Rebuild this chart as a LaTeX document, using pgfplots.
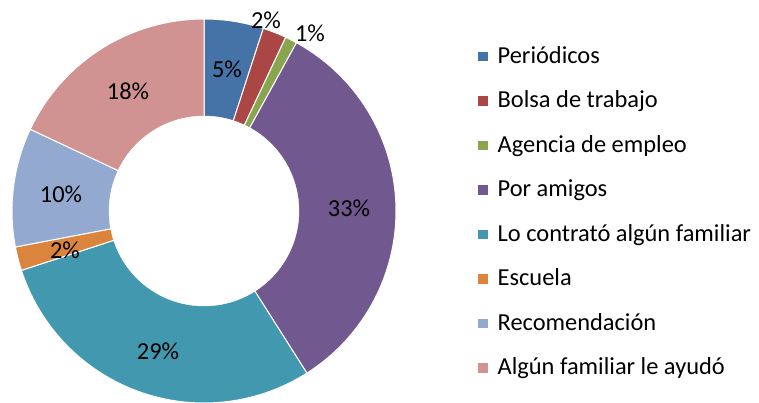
\documentclass[border=0pt]{standalone}
\usepackage{pgfplots}
\pgfplotsset{compat=1.18}
\usepackage{fontspec}
\setmainfont{Carlito}
\definecolor{c1}{HTML}{4572A7}
\definecolor{c2}{HTML}{AA4643}
\definecolor{c3}{HTML}{89A54E}
\definecolor{c4}{HTML}{71588F}
\definecolor{c5}{HTML}{4198AF}
\definecolor{c6}{HTML}{DB843D}
\definecolor{c7}{HTML}{93A9CF}
\definecolor{c8}{HTML}{D19392}
\newcommand{\lab}{\fontsize{24.5}{28}\selectfont}
\begin{document}
\begin{tikzpicture}
\useasboundingbox (0,0) rectangle (759bp,403bp);
\begin{axis}[
  at={(0,0)}, anchor=south west,
  scale only axis, width=759bp, height=403bp,
  xmin=0, xmax=759, ymin=0, ymax=403,
  hide axis, clip=false,
  legend style={draw=none, fill=none, at={(axis cs:477,189.5)}, anchor=west,
    font=\lab, row sep=23.5bp, inner sep=0pt,
    nodes={inner sep=0pt, text height=16bp, text depth=5bp},
    /tikz/every odd column/.append style={column sep=9bp}},
  legend cell align=left,
  legend image code/.code={\fill[#1] (0bp,-4bp) rectangle (10.5bp,6.5bp);},
]
% percentages (clockwise from 12 o'clock): 5, 2, 1, 33, 29, 2, 10, 18
% center (204,192), outer radius 192, inner radius 95
\addplot[fill=c1, draw=white, line width=1pt, domain={90-3.6*0}:{90-3.6*5}, samples=20, variable=\t]
  ({204+192*cos(\t)},{192+192*sin(\t)}) -- (axis cs:204,192) -- cycle;
\addplot[fill=c2, draw=white, line width=1pt, domain={90-3.6*5}:{90-3.6*7}, samples=10, variable=\t]
  ({204+192*cos(\t)},{192+192*sin(\t)}) -- (axis cs:204,192) -- cycle;
\addplot[fill=c3, draw=white, line width=1pt, domain={90-3.6*7}:{90-3.6*8}, samples=6, variable=\t]
  ({204+192*cos(\t)},{192+192*sin(\t)}) -- (axis cs:204,192) -- cycle;
\addplot[fill=c4, draw=white, line width=1pt, domain={90-3.6*8}:{90-3.6*41}, samples=80, variable=\t]
  ({204+192*cos(\t)},{192+192*sin(\t)}) -- (axis cs:204,192) -- cycle;
\addplot[fill=c5, draw=white, line width=1pt, domain={90-3.6*41}:{90-3.6*70}, samples=80, variable=\t]
  ({204+192*cos(\t)},{192+192*sin(\t)}) -- (axis cs:204,192) -- cycle;
\addplot[fill=c6, draw=white, line width=1pt, domain={90-3.6*70}:{90-3.6*72}, samples=10, variable=\t]
  ({204+192*cos(\t)},{192+192*sin(\t)}) -- (axis cs:204,192) -- cycle;
\addplot[fill=c7, draw=white, line width=1pt, domain={90-3.6*72}:{90-3.6*82}, samples=30, variable=\t]
  ({204+192*cos(\t)},{192+192*sin(\t)}) -- (axis cs:204,192) -- cycle;
\addplot[fill=c8, draw=white, line width=1pt, domain={90-3.6*82}:{90-3.6*100}, samples=50, variable=\t]
  ({204+192*cos(\t)},{192+192*sin(\t)}) -- (axis cs:204,192) -- cycle;
\addplot[fill=white, draw=white, domain=0:360, samples=120, variable=\t, forget plot]
  ({204+95*cos(\t)},{192+95*sin(\t)});
\addlegendimage{fill=c1}\addlegendentry{Periódicos}
\addlegendimage{fill=c2}\addlegendentry{Bolsa de trabajo}
\addlegendimage{fill=c3}\addlegendentry{Agencia de empleo}
\addlegendimage{fill=c4}\addlegendentry{Por amigos}
\addlegendimage{fill=c5}\addlegendentry{Lo contrató algún familiar}
\addlegendimage{fill=c6}\addlegendentry{Escuela}
\addlegendimage{fill=c7}\addlegendentry{Recomendación}
\addlegendimage{fill=c8}\addlegendentry{Algún familiar le ayudó}
% data labels
\node[font=\lab] at (axis cs:227,334) {5\%};
\node[font=\lab] at (axis cs:266,383) {2\%};
\node[font=\lab] at (axis cs:310,370) {1\%};
\node[font=\lab] at (axis cs:349,195) {33\%};
\node[font=\lab] at (axis cs:158,52) {29\%};
\node[font=\lab] at (axis cs:65,153) {2\%};
\node[font=\lab] at (axis cs:61,209) {10\%};
\node[font=\lab] at (axis cs:128,312) {18\%};
\end{axis}
\end{tikzpicture}
\end{document}
